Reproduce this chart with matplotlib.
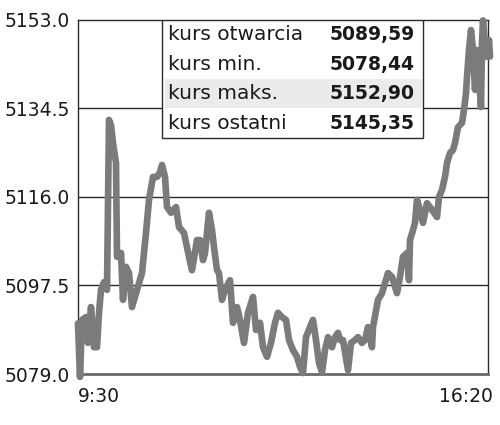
import matplotlib
matplotlib.use("Agg")
import matplotlib.pyplot as plt
import matplotlib.transforms as mtransforms
from matplotlib.patches import Rectangle

# minutes since 9:30 and index level
minutes = [0, 2, 4, 8, 10, 13, 16, 19, 21, 23, 26, 29, 31, 33, 35, 38, 39, 43, 45, 48,
           51, 54, 58, 61, 64, 68, 71, 75, 79, 82, 84, 87, 89, 93, 98, 101, 106, 111, 114, 119,
           122, 125, 127, 131, 134, 136, 139, 141, 144, 147, 152, 155, 159, 162, 166, 170, 175, 178, 182, 185,
           189, 193, 197, 200, 204, 208, 211, 215, 219, 222, 225, 228, 232, 235, 238, 241, 244, 247, 250, 254,
           257, 260, 262, 265, 270, 273, 277, 280, 284, 287, 290, 294, 295, 300, 304, 307, 310, 314, 319, 322,
           325, 329, 331, 332, 335, 337, 339, 342, 345, 349, 352, 356, 359, 361, 364, 367, 369, 372, 375, 377,
           380, 384, 386, 388, 389, 391, 393, 395, 397, 399, 401, 403, 404, 405, 407, 409, 411, 412]
values = [5089.6, 5078.4, 5090.3, 5090.9, 5085.5, 5093.0, 5084.6, 5084.6, 5091.8, 5096.6, 5098.2, 5096.6, 5132.1, 5131.0, 5127.3, 5123.1, 5103.5, 5104.3, 5094.5, 5101.4,
          5100.1, 5093.0, 5095.9, 5098.0, 5100.1, 5108.5, 5115.4, 5120.2, 5120.2, 5121.2, 5122.7, 5120.2, 5113.9, 5112.7, 5113.9, 5109.7, 5108.5, 5103.5, 5100.7, 5107.0,
          5107.0, 5102.8, 5104.3, 5112.7, 5109.1, 5105.5, 5100.7, 5100.1, 5094.5, 5096.6, 5098.6, 5089.7, 5093.0, 5090.3, 5085.5, 5091.8, 5095.1, 5088.2, 5089.7, 5084.6,
          5082.6, 5085.5, 5089.7, 5091.8, 5090.9, 5090.3, 5086.1, 5084.0, 5082.6, 5080.5, 5079.2, 5086.7, 5088.8, 5090.3, 5086.1, 5081.3, 5079.4, 5084.0, 5086.7, 5084.6,
          5086.7, 5087.6, 5086.1, 5086.1, 5079.8, 5085.5, 5086.1, 5086.7, 5085.5, 5086.1, 5088.8, 5084.6, 5088.8, 5094.5, 5095.9, 5098.0, 5100.1, 5099.3, 5095.9, 5099.3,
          5103.5, 5104.3, 5098.6, 5107.0, 5109.1, 5110.6, 5115.4, 5113.3, 5110.6, 5114.7, 5113.9, 5112.7, 5111.8, 5116.0, 5117.5, 5120.2, 5123.1, 5125.2, 5125.8, 5127.3,
          5130.6, 5131.5, 5134.2, 5137.7, 5141.1, 5146.7, 5150.9, 5146.7, 5138.4, 5146.7, 5141.1, 5134.8, 5148.2, 5152.9, 5148.2, 5145.3, 5148.8, 5145.35]

yticks = [5079.0, 5097.5, 5116.0, 5134.5, 5153.0]
xtick_pos = [0, 410]
xtick_labels = ["9:30", "16:20"]

table_labels = ["kurs otwarcia", "kurs min.", "kurs maks.", "kurs ostatni"]
table_values = ["5089,59", "5078,44", "5152,90", "5145,35"]

txt = "#1a1a1a"
fig = plt.figure(figsize=(5, 4.25), dpi=100)
ax = fig.add_axes([0.156, 0.12, 0.82, 0.833])

for y in yticks[1:-1]:
    ax.axhline(y, color="#2a2a2a", lw=1.0, zorder=1)

ax.plot(minutes, values, color="#7b7b7d", lw=4.8, solid_joinstyle="round",
        solid_capstyle="round", zorder=3, clip_on=False)

ax.set_xlim(0, 410)
ax.set_ylim(5079.0, 5153.0)
ax.set_yticks(yticks)
ax.set_yticklabels([f"{v:.1f}" for v in yticks])
ax.set_xticks(xtick_pos)
ax.set_xticklabels(xtick_labels)
ax.tick_params(length=0, labelsize=13.5, colors=txt, pad=6)
ax.tick_params(axis="x", pad=9)
xl = ax.get_xticklabels()
xl[0].set_horizontalalignment("left")
xl[1].set_horizontalalignment("right")
# nudge the closing time label a little to the right, as in the original
xl[1].set_transform(xl[1].get_transform() +
                    mtransforms.ScaledTranslation(0.05, 0, fig.dpi_scale_trans))

for s in ["top", "left", "right"]:
    ax.spines[s].set_color("#2a2a2a")
    ax.spines[s].set_linewidth(1.0)
ax.spines["bottom"].set_color("#6a6a6a")
ax.spines["bottom"].set_linewidth(2.0)

# info table
x0, x1, ytop, rh = 0.205, 0.841, 1.0, 0.0833
ax.add_patch(Rectangle((x0, ytop - 4 * rh), x1 - x0, 4 * rh, transform=ax.transAxes,
                       facecolor="white", edgecolor="#2a2a2a", lw=1.0, zorder=4))
ax.add_patch(Rectangle((x0 + 0.006, ytop - 3 * rh), x1 - x0 - 0.008, rh, transform=ax.transAxes,
                       facecolor="#ebebeb", edgecolor="none", zorder=4))
for i, (lab, val) in enumerate(zip(table_labels, table_values)):
    yc = ytop - (i + 0.5) * rh
    ax.text(x0 + 0.015, yc, lab, transform=ax.transAxes, ha="left", va="center",
            fontsize=14.5, color=txt, zorder=5)
    ax.text(x1 - 0.02, yc, val, transform=ax.transAxes, ha="right", va="center",
            fontsize=13.5, fontweight="bold", color=txt, zorder=5)

fig.savefig("out.png", dpi=100)
